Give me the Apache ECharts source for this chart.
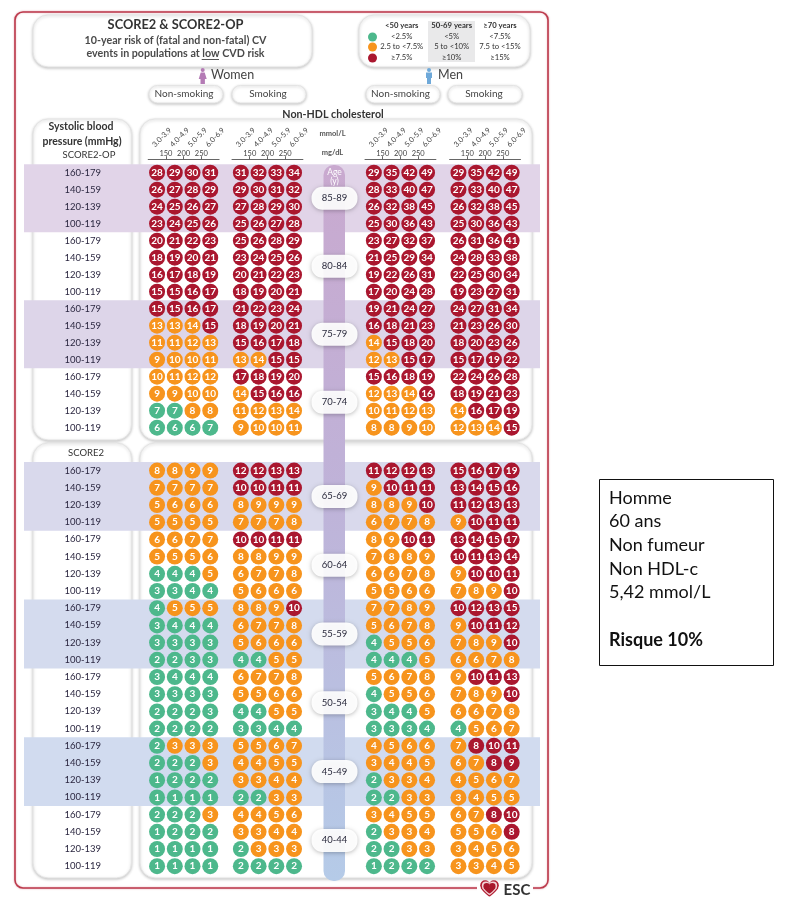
<!DOCTYPE html>
<html><head><meta charset="utf-8">
<script src="https://cdn.jsdelivr.net/npm/echarts@6/dist/echarts.min.js"></script>
<style>html,body{margin:0;padding:0;background:#fff}#c{width:791px;height:909px}</style>
</head><body><div id="c"></div>
<script>
const FONT='Lato';
const sbpRows=['160-179','140-159','120-139','100-119'];
const cholMmol=['3.0-3.9','4.0-4.9','5.0-5.9','6.0-6.9'];
const cholMg=['150','200','250'];
const agesOP=['85-89','80-84','75-79','70-74'];
const agesS2=['65-69','60-64','55-59','50-54','45-49','40-44'];

const womenNonSmokingOP=[[28,29,30,31],[26,27,28,29],[24,25,26,27],[23,24,25,26],
 [20,21,22,23],[18,19,20,21],[16,17,18,19],[15,15,16,17],
 [15,15,16,17],[13,13,14,15],[11,11,12,13],[9,10,10,11],
 [10,11,12,12],[9,9,10,10],[7,7,8,8],[6,6,6,7]];
const womenSmokingOP=[[31,32,33,34],[29,30,31,32],[27,28,29,30],[25,26,27,28],
 [25,26,28,29],[23,24,25,26],[20,21,22,23],[18,19,20,21],
 [21,22,23,24],[18,19,20,21],[15,16,17,18],[13,14,15,15],
 [17,18,19,20],[14,15,16,16],[11,12,13,14],[9,10,10,11]];
const menNonSmokingOP=[[29,35,42,49],[28,33,40,47],[26,32,38,45],[25,30,36,43],
 [23,27,32,37],[21,25,29,34],[19,22,26,31],[17,20,24,28],
 [19,21,24,27],[16,18,21,23],[14,15,18,20],[12,13,15,17],
 [15,16,18,19],[12,13,14,16],[10,11,12,13],[8,8,9,10]];
const menSmokingOP=[[29,35,42,49],[27,33,40,47],[26,32,38,45],[25,30,36,43],
 [26,31,36,41],[24,28,33,38],[22,25,30,34],[19,23,27,31],
 [24,27,31,34],[21,23,26,30],[18,20,23,26],[15,17,19,22],
 [22,24,26,28],[18,19,21,23],[14,16,17,19],[12,13,14,15]];
const womenNonSmokingS2=[[8,8,9,9],[7,7,7,7],[5,6,6,6],[5,5,5,5],
 [6,6,7,7],[5,5,5,6],[4,4,4,5],[3,3,4,4],
 [4,5,5,5],[3,4,4,4],[3,3,3,3],[2,2,3,3],
 [3,4,4,4],[3,3,3,3],[2,2,2,3],[2,2,2,2],
 [2,3,3,3],[2,2,2,3],[1,2,2,2],[1,1,1,1],
 [2,2,2,3],[1,2,2,2],[1,1,1,1],[1,1,1,1]];
const womenSmokingS2=[[12,12,13,13],[10,10,11,11],[8,9,9,9],[7,7,7,8],
 [10,10,11,11],[8,8,9,9],[6,7,7,8],[5,6,6,6],
 [8,8,9,10],[6,7,7,8],[5,6,6,6],[4,4,5,5],
 [6,7,7,8],[5,5,6,6],[4,4,5,5],[3,3,4,4],
 [5,5,6,7],[4,4,5,5],[3,3,4,4],[2,2,3,3],
 [4,4,5,6],[3,3,4,4],[2,3,3,3],[2,2,2,2]];
const menNonSmokingS2=[[11,12,12,13],[9,10,11,11],[8,8,9,10],[6,7,7,8],
 [8,9,10,11],[7,8,8,9],[6,6,7,8],[5,5,6,6],
 [7,7,8,9],[5,6,7,8],[4,5,5,6],[4,4,4,5],
 [5,6,7,8],[4,5,5,6],[3,4,4,5],[3,3,3,4],
 [4,5,6,6],[3,4,4,5],[2,3,3,4],[2,2,3,3],
 [3,4,5,5],[2,3,3,4],[2,2,3,3],[1,2,2,2]];
const menSmokingS2=[[15,16,17,19],[13,14,15,16],[11,12,13,13],[9,10,11,11],
 [13,14,15,17],[10,11,13,14],[9,10,10,11],[7,8,9,10],
 [10,12,13,15],[9,10,11,12],[7,8,9,10],[6,6,7,8],
 [9,10,11,13],[7,8,9,10],[6,6,7,8],[4,5,6,7],
 [7,8,10,11],[6,7,8,9],[4,5,6,7],[3,4,5,5],
 [6,7,8,10],[5,5,6,8],[3,4,5,6],[3,3,4,5]];

// Risk cut-offs from the legend: [low/moderate, moderate/high] in %
const cutoffsOver70=[7.5,15], cutoffs50to69=[5,10], cutoffsUnder50=[2.5,7.5];
const COLORS={green:'#4DB88C',orange:'#F7941D',red:'#AA172F'};

const agesOPBlockCuts=[cutoffsOver70,cutoffsOver70,cutoffsOver70,cutoffsOver70];
const agesS2BlockCuts=[cutoffs50to69,cutoffs50to69,cutoffs50to69,cutoffs50to69,cutoffsUnder50,cutoffsUnder50];
function riskColor(v,cuts){return v<cuts[0]?COLORS.green:(v<cuts[1]?COLORS.orange:COLORS.red);}

const colLeft=[148.2,232,365,449.6], colW=70.9;
const topBlock={top:164.2,h:272}, botBlock={top:462,h:412.8};
const rowsOP=[].concat(...agesOP.map(()=>sbpRows));
const rowsS2=[].concat(...agesS2.map(()=>sbpRows));

const grid=[
 {left:24,width:516,top:topBlock.top,height:topBlock.h},
 {left:24,width:516,top:botBlock.top,height:botBlock.h}];
const xAxis=[{gridIndex:0,type:'value',min:0,max:1,show:false},{gridIndex:1,type:'value',min:0,max:1,show:false}];
const rowAxis=(g,d)=>({gridIndex:g,type:'category',inverse:true,data:d,position:'left',z:3,
  axisLine:{show:false},axisTick:{show:false},splitLine:{show:false},
  axisLabel:{interval:0,margin:-58.7,align:'center',color:'#2b2740',fontFamily:FONT,fontSize:9.5}});
const ageAxis=(g,d)=>({gridIndex:g,type:'category',inverse:true,data:d,position:'right',z:6,
  axisLine:{show:false},axisTick:{show:false},splitLine:{show:false},
  axisLabel:{interval:0,margin:-205.5,align:'center',color:'#2a2a3c',fontFamily:FONT,fontSize:9.5,
    backgroundColor:'rgba(255,255,255,0.93)',borderRadius:11,padding:[6,6],width:34,height:11,lineHeight:11,
    shadowBlur:4,shadowColor:'rgba(0,0,0,0.28)',shadowOffsetY:1}});
const yAxis=[rowAxis(0,rowsOP),rowAxis(1,rowsS2),ageAxis(0,agesOP),ageAxis(1,agesS2)];

// Bands
const bandColors=['#E1D4E8','#DDD5E9','#D9D9EC','#D4DBEE','#D1DBEF'];
const bandsOP=[[0,0,3,0],[0,8,11,1]], bandsS2=[[0,0,3,2],[0,8,11,3],[0,16,19,4]];
const bandRender=(params,api)=>{
  const c=api.coord([0,api.value(1)]), s=api.size([0,1]), cs=params.coordSys;
  return {type:'rect',shape:{x:cs.x,y:c[1]-s[1]/2,width:cs.width,height:(api.value(2)-api.value(1)+1)*s[1]},
    style:{fill:bandColors[api.value(3)]}};
};
const series=[
 {type:'custom',xAxisIndex:0,yAxisIndex:0,z:1,silent:true,clip:false,renderItem:bandRender,encode:{x:0,y:1},data:bandsOP},
 {type:'custom',xAxisIndex:1,yAxisIndex:1,z:1,silent:true,clip:false,renderItem:bandRender,encode:{x:0,y:1},data:bandsS2}];

function addGroup(block,rows,matrix,cuts,cl,isTop){
  const g=grid.length;
  grid.push({left:cl,width:colW,top:block.top,height:block.h});
  const xi=xAxis.length;
  xAxis.push({gridIndex:g,type:'category',position:'top',offset:5,data:cholMmol,show:isTop,
    axisLine:{show:true,lineStyle:{color:'#666',width:1}},axisTick:{show:false},splitLine:{show:false},
    axisLabel:{interval:0,rotate:-45,margin:17,padding:[0,0,0,-5],fontSize:7.5,fontFamily:FONT,color:'#444'}});
  if(isTop){
    xAxis.push({gridIndex:g,type:'value',position:'top',offset:5,min:0,max:4,interval:1,
      axisLine:{show:false},axisTick:{show:true,length:3,lineStyle:{color:'#666'}},splitLine:{show:false},
      axisLabel:{show:true,margin:2,fontSize:7.5,fontFamily:FONT,color:'#444',showMinLabel:false,showMaxLabel:false,
        formatter:v=>cholMg[v-1]||''}});
  }
  const yi=yAxis.length;
  yAxis.push({gridIndex:g,type:'category',inverse:true,show:false,data:rows});
  const data=[];
  matrix.forEach((row,r)=>row.forEach((v,c)=>data.push([c,r,v])));
  series.push({type:'scatter',xAxisIndex:xi,yAxisIndex:yi,z:5,silent:true,symbol:'circle',symbolSize:16,
    data:data,encode:{x:0,y:1},
    itemStyle:{opacity:1,color:p=>riskColor(p.value[2],cuts[Math.floor(p.value[1]/4)])},
    label:{show:true,position:'inside',formatter:p=>String(p.value[2]),color:'#fff',fontFamily:FONT,fontSize:10,fontWeight:'bold'}});
}
[womenNonSmokingOP,womenSmokingOP,menNonSmokingOP,menSmokingOP].forEach((m,i)=>addGroup(topBlock,rowsOP,m,agesOPBlockCuts,colLeft[i],true));
[womenNonSmokingS2,womenSmokingS2,menNonSmokingS2,menSmokingS2].forEach((m,i)=>addGroup(botBlock,rowsS2,m,agesS2BlockCuts,colLeft[i],false));

// Decoration
const els=[];
const txt=(t,x,y,o={})=>els.push({type:'text',z:o.z||7,silent:true,style:{text:t,x,y,
  fill:o.fill||'#333',fontFamily:o.family||FONT,fontSize:o.size||9.5,fontWeight:o.weight||'normal',
  textAlign:o.align||'center',textVerticalAlign:'middle'}});
const panel=(x,y,w,h,r,z=0)=>els.push({type:'rect',z,silent:true,shape:{x,y,width:w,height:h,r},
  style:{fill:'#fff',stroke:'#e4e4e4',lineWidth:1,shadowBlur:3,shadowColor:'rgba(0,0,0,0.22)',shadowOffsetY:1}});

// frame
els.push({type:'rect',z:0,silent:true,shape:{x:15,y:12,width:533,height:876,r:8},
  style:{fill:'#fff',stroke:'#BC3A4C',lineWidth:1.6,shadowBlur:2,shadowColor:'rgba(190,60,80,0.4)'}});
// top panels
panel(33,15,279,52,15);
panel(359,15,171,52,15);
els.push({type:'rect',z:1,silent:true,shape:{x:428,y:21,width:47,height:41},style:{fill:'#E9E9EA'}});
panel(149,85.5,74,17.5,8.5); panel(232,85.5,74,17.5,8.5); panel(366,85.5,74,17.5,8.5); panel(448,85.5,74,17.5,8.5);
// body panels
panel(33,119,98.5,321,15); panel(140,119,392,321,15);
panel(33,443,98.5,435,15); panel(140,443,392,435,15);

// centre column
els.push({type:'rect',z:3,silent:true,shape:{x:323.5,y:165,width:21.5,height:716,r:[10,10,10,10]},
  style:{fill:new echarts.graphic.LinearGradient(0,0,0,1,[{offset:0,color:'#C9A9CF'},{offset:0.45,color:'#BFB2D8'},{offset:1,color:'#B5CBE8'}])}});

// titles
txt('SCORE2 & SCORE2-OP',175.5,25,{size:12.8,weight:'bold',fill:'#333'});
txt('10-year risk of (fatal and non-fatal) CV',175.5,41,{size:10.7,weight:'bold',fill:'#4a4a4a'});
txt('events in populations at low CVD risk',175.5,54,{size:10.7,weight:'bold',fill:'#4a4a4a'});
els.push({type:'line',z:7,silent:true,shape:{x1:201.7,y1:59.5,x2:219,y2:59.5},style:{stroke:'#555',lineWidth:1}});

// legend
const legendDotYs=[37,47,58], legendDotColors=[COLORS.green,COLORS.orange,COLORS.red];
legendDotColors.forEach((c,i)=>els.push({type:'circle',z:7,silent:true,shape:{cx:372.5,cy:legendDotYs[i],r:4.5},style:{fill:c}}));
const legendCols=[['<50 years','<2.5%','2.5 to <7.5%','\u22657.5%'],['50-69 years','<5%','5 to <10%','\u226510%'],['\u226570 years','<7.5%','7.5 to <15%','\u226515%']];
const legendXs=[401.7,451.7,500], legendYs=[26,37,46.7,57.3];
legendCols.forEach((col,i)=>col.forEach((t,j)=>txt(t,legendXs[i],legendYs[j],{size:7.7,weight:j===0?'bold':'normal',fill:'#333'})));

// gender headers
function person(cx,color,dress){
  els.push({type:'circle',z:7,silent:true,shape:{cx,cy:70,r:2},style:{fill:color}});
  const pts=dress?[[cx-2,72.5],[cx+2,72.5],[cx+4,79],[cx+2.2,79],[cx+2.2,84],[cx-2.2,84],[cx-2.2,79],[cx-4,79]]
                 :[[cx-3,72.5],[cx+3,72.5],[cx+3,78],[cx+2,78],[cx+2,84],[cx-2,84],[cx-2,78],[cx-3,78]];
  els.push({type:'polygon',z:7,silent:true,shape:{points:pts},style:{fill:color}});
}
person(202.7,'#B47BB5',true); person(429,'#6FA9D9',false);
txt('Women',211,75,{size:12.5,align:'left',fill:'#444'});
txt('Men',438,75,{size:12.5,align:'left',fill:'#444'});
[['Non-smoking',184],['Smoking',268],['Non-smoking',400.5],['Smoking',484]].forEach(p=>txt(p[0],p[1],94,{size:10,fill:'#444'}));
txt('Non-HDL cholesterol',333,115,{size:10.7,weight:'bold',fill:'#333'});
txt('Systolic blood',81,127,{size:10.5,weight:'bold'});
txt('pressure (mmHg)',82,141.5,{size:10.5,weight:'bold'});
txt('SCORE2-OP',89,155,{size:9.5});
txt('SCORE2',86,453,{size:9.5});
txt('mmol/L',332.5,134,{size:7.5,weight:'bold',fill:'#555'});
txt('mg/dL',332.5,153,{size:7.5,weight:'bold',fill:'#555'});
txt('Age',334.5,172,{size:8.5,fill:'#fff',z:8});
txt('(y)',334.5,181,{size:8.5,fill:'#fff',z:8});

// ESC logo
els.push({type:'rect',z:1,silent:true,shape:{x:477,y:884,width:56,height:10},style:{fill:'#fff'}});
const heart=(cx,cy,k,fill)=>{
  els.push({type:'circle',z:7,silent:true,shape:{cx:cx-4.6*k,cy:cy-3*k,r:5.2*k},style:{fill}});
  els.push({type:'circle',z:7,silent:true,shape:{cx:cx+4.6*k,cy:cy-3*k,r:5.2*k},style:{fill}});
  els.push({type:'polygon',z:7,silent:true,shape:{points:[[cx-9.2*k,cy],[cx+9.2*k,cy],[cx,cy+9*k]],smooth:0.15},style:{fill}});
};
heart(489.5,888,0.95,'#B21F33');
heart(489.5,888,0.78,'#F3D5D8');
heart(489.5,888,0.62,'#A8182C');
txt('ESC',517,890,{size:15,weight:'bold',fill:'#333'});

// patient box
els.push({type:'rect',z:0,silent:true,shape:{x:599.5,y:479.5,width:174,height:186},style:{fill:'#fff',stroke:'#111',lineWidth:1}});
const boxLines=[['Homme',498],['60 ans',521],['Non fumeur',545],['Non HDL-c',569],['5,42 mmol/L',592]];
boxLines.forEach(l=>txt(l[0],609,l[1],{size:18,align:'left',fill:'#111'}));
txt('Risque 10%',609,640,{size:18,align:'left',weight:'bold',fill:'#111'});

const chart=echarts.init(document.getElementById('c'),null,{renderer:'canvas'});
chart.setOption({animation:false,backgroundColor:'#fff',tooltip:{show:false},grid,xAxis,yAxis,series,graphic:{elements:els}});
</script></body></html>
